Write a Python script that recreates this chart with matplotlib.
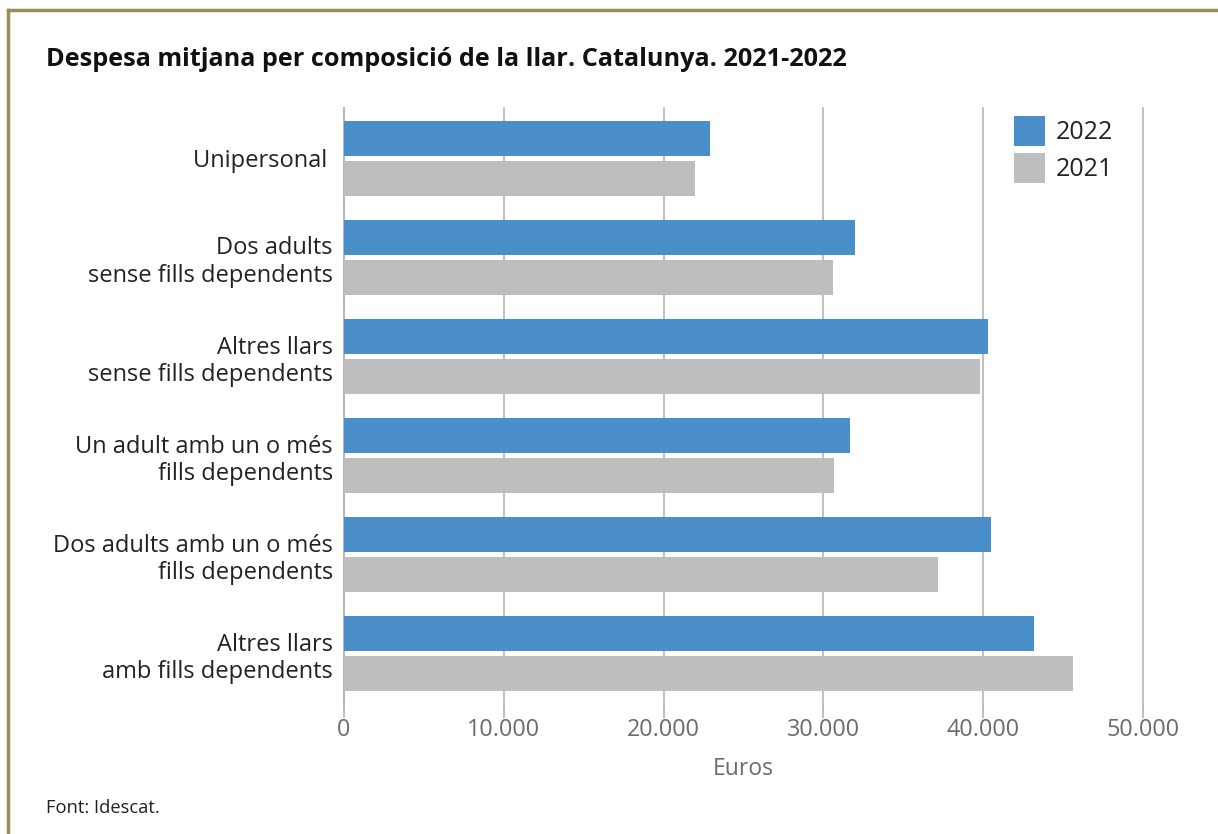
import matplotlib
matplotlib.use("Agg")
import matplotlib.pyplot as plt
from matplotlib.lines import Line2D
import numpy as np

plt.rcParams['font.family'] = ['Open Sans', 'DejaVu Sans']

# dades
categories = ["Unipersonal ", "Dos adults\nsense fills dependents", "Altres llars\nsense fills dependents",
              "Un adult amb un o més\nfills dependents", "Dos adults amb un o més\nfills dependents",
              "Altres llars\namb fills dependents"]
values_2022 = [22900, 31980, 40300, 31660, 40490, 43180]
values_2021 = [21960, 30600, 39800, 30660, 37170, 45620]
series_names = ["2022", "2021"]
xticks = [0, 10000, 20000, 30000, 40000, 50000]
xtick_labels = ["0", "10.000", "20.000", "30.000", "40.000", "50.000"]

W, H = 1218, 834
fig = plt.figure(figsize=(W / 100, H / 100), dpi=100)
fig.patch.set_facecolor("white")

# marc (només a dalt i a l'esquerra)
border = "#9a8f55"
fig.add_artist(Line2D([8 / W, 8 / W], [0, 1 - 10 / H], color=border, lw=2.5, transform=fig.transFigure))
fig.add_artist(Line2D([8 / W, 1], [1 - 10 / H, 1 - 10 / H], color=border, lw=2.5, transform=fig.transFigure))

ax = fig.add_axes([344 / W, 1 - 705 / H, (1143 - 344) / W, (705 - 108) / H])

y = np.arange(len(categories))
bh = 0.352
off = 0.2
ax.barh(y - off, values_2022, height=bh, color="#4a8fca", label=series_names[0], zorder=3)
ax.barh(y + off, values_2021, height=bh, color="#bfbebe", label=series_names[1], zorder=3)

ax.set_ylim(len(categories) - 0.5 + 0.02, -0.5 - 0.01)
ax.set_xlim(0, 50000)

ax.set_yticks(y)
ax.set_yticklabels(categories, fontsize=17, color="#222222", linespacing=1.2)
ax.tick_params(axis="y", length=0, pad=8)

ax.set_xticks(xticks)
ax.set_xticklabels(xtick_labels, fontsize=16.8, color="#6b6b6b")
ax.tick_params(axis="x", length=9, color="#b4b4b4", width=1.2, pad=0)

ax.grid(axis="x", color="#b4b4b4", lw=1.2, zorder=0)
for gl in ax.get_xgridlines():
    gl.set_clip_on(False)
for s in ["top", "right", "bottom"]:
    ax.spines[s].set_visible(False)
ax.spines["left"].set_color("#b4b4b4")
ax.spines["left"].set_linewidth(1.2)

ax.set_xlabel("Euros", fontsize=16.5, color="#6b6b6b", labelpad=11)

leg = ax.legend(loc="upper left", bbox_to_anchor=(0.82, 1.012), frameon=False, fontsize=18,
                handlelength=1.25, handleheight=1.45, handletextpad=0.4, labelspacing=0.3,
                borderaxespad=0.2)
for t in leg.get_texts():
    t.set_color("#222222")

fig.text(46 / W, 1 - 60 / H, "Despesa mitjana per composició de la llar. Catalunya. 2021-2022",
         fontsize=18.2, fontweight="bold", color="#111111", va="center", ha="left")
fig.text(46 / W, 1 - 808 / H, "Font: Idescat.", fontsize=13.2, color="#222222", va="center", ha="left")

fig.savefig("out.png", dpi=100)
